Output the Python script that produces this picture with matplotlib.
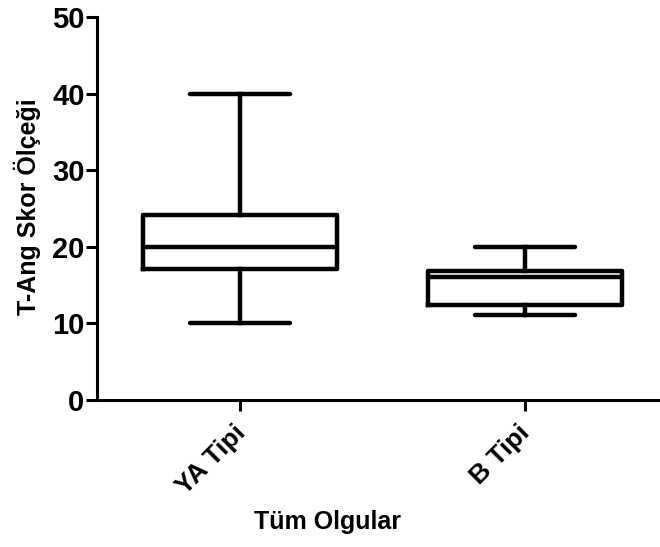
import matplotlib
matplotlib.use("Agg")
import matplotlib.pyplot as plt
import matplotlib.transforms as mtransforms

# Box plot summary values
groups = ["YA Tipi", "B Tipi"]
whisker_low = [10, 11.1]
q1 = [17.1, 12.4]
median = [20, 16.1]
q3 = [24.1, 16.8]
whisker_high = [40, 20]

plt.rcParams['font.family'] = ['Liberation Sans', 'DejaVu Sans']
plt.rcParams['font.weight'] = 'bold'

fig = plt.figure(figsize=(6.6, 5.47), dpi=100)
ax = fig.add_axes([0.147, 0.2687, 0.853, 0.7003])

stats = []
for i, name in enumerate(groups):
    stats.append(dict(label=name, whislo=whisker_low[i], q1=q1[i], med=median[i],
                      q3=q3[i], whishi=whisker_high[i], fliers=[]))

lw = 3.2
ax.bxp(stats, positions=[1, 2], widths=0.68, showfliers=False,
       boxprops=dict(color='black', linewidth=lw),
       medianprops=dict(color='black', linewidth=lw),
       whiskerprops=dict(color='black', linewidth=lw),
       capprops=dict(color='black', linewidth=lw, solid_capstyle='round'),
       capwidths=0.35)

ax.set_xlim(0.498, 2.475)
ax.set_ylim(0, 50)
ax.set_yticks([0, 10, 20, 30, 40, 50])

for s in ['top', 'right']:
    ax.spines[s].set_visible(False)
for s in ['left', 'bottom']:
    ax.spines[s].set_linewidth(2.2)

ax.tick_params(axis='y', direction='out', length=8, width=2.2, labelsize=21, pad=1)
ax.tick_params(axis='x', direction='out', length=8, width=2.2, labelsize=19, pad=3)
ax.set_xticks([1, 2])
ax.set_xticklabels(groups, rotation=45, ha='right', rotation_mode='anchor')
shift = mtransforms.ScaledTranslation(-7 / 100, -5 / 100, fig.dpi_scale_trans)
for lab in ax.get_xticklabels():
    lab.set_transform(lab.get_transform() + shift)

ax.set_ylabel("T-Ang Skor Ölçeği", fontsize=18, fontweight='bold', va='center')
ax.yaxis.set_label_coords(-0.124, 0.504)
ax.set_xlabel("Tüm Olgular", fontsize=18, fontweight='bold', va='center')
ax.xaxis.set_label_coords(0.41, -0.318)

fig.savefig("out.png", dpi=100)
